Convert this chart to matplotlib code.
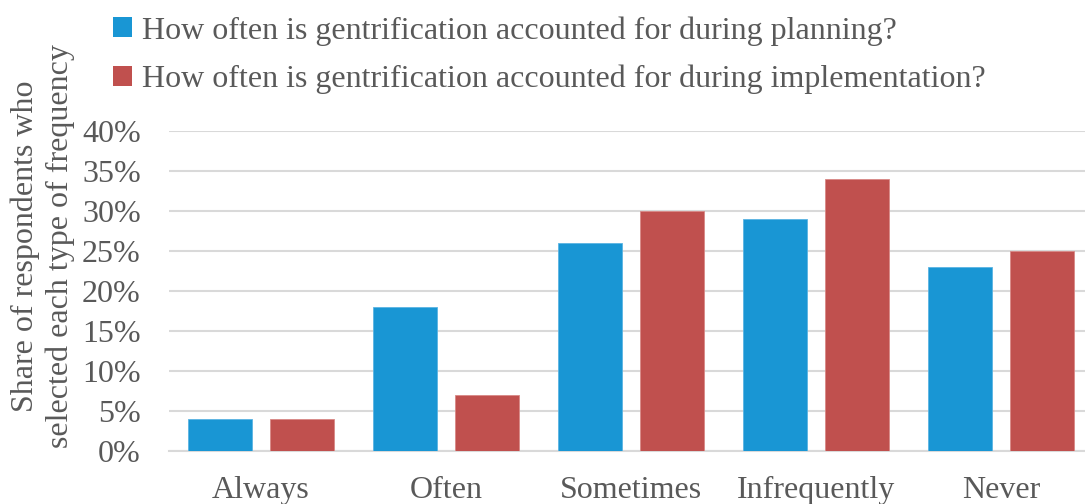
import matplotlib
matplotlib.use('Agg')
import matplotlib.pyplot as plt
import numpy as np
from matplotlib.patches import Patch

# Survey responses (percent of respondents)
categories = ['Always', 'Often', 'Sometimes', 'Infrequently', 'Never']
planning = [4, 18, 26, 29, 23]
implementation = [4, 7, 30, 34, 25]
series_labels = ['How often is gentrification accounted for during planning?',
                 'How often is gentrification accounted for during implementation?']
yticks = [0, 5, 10, 15, 20, 25, 30, 35, 40]

blue = '#1996d4'
red = '#c0504e'
text_color = '#595959'
grid_color = '#d9d9d9'

plt.rcParams['font.family'] = 'Liberation Serif'
plt.rcParams['font.size'] = 23

fig = plt.figure(figsize=(10.85, 5.04), dpi=100)
ax = fig.add_axes([168.5 / 1085, 53 / 504, 925 / 1085, 320 / 504])

x = np.arange(len(categories))
width = 0.346
offset = 0.222
ax.bar(x - offset, planning, width, color=blue, edgecolor='#5ab4e2', linewidth=0.6, zorder=3)
ax.bar(x + offset, implementation, width, color=red, edgecolor='#d88986', linewidth=0.6, zorder=3)

ax.set_xlim(-0.5, len(categories) - 0.5)
ax.set_ylim(0, 40)
ax.set_yticks(yticks)
ax.set_yticklabels([f'{v}%' for v in yticks])
ax.set_xticks(x)
ax.set_xticklabels(categories)
ax.yaxis.grid(True, color=grid_color, linewidth=1.5, zorder=0)
ax.tick_params(axis='both', length=0, colors=text_color)
ax.tick_params(axis='x', pad=18)
ax.tick_params(axis='y', pad=20)
for side in ['top', 'right', 'left']:
    ax.spines[side].set_visible(False)
ax.spines['bottom'].set_color(grid_color)
ax.spines['bottom'].set_linewidth(1.5)

fig.text(43 / 1085, 1 - 246 / 504, 'Share of respondents who\nselected each type of frequency',
         rotation=90, ha='center', va='center', color=text_color,
         linespacing=1.25, multialignment='center')

handles = [Patch(facecolor=blue), Patch(facecolor=red)]
leg = fig.legend(handles, series_labels, loc='upper left',
                 bbox_to_anchor=(113 / 1085, 1 - 16 / 504), frameon=False,
                 handlelength=0.6, handleheight=0.6, handletextpad=0.3,
                 labelspacing=0.6, borderpad=0, borderaxespad=0)
for t in leg.get_texts():
    t.set_color(text_color)

fig.savefig('out.png', dpi=100)
